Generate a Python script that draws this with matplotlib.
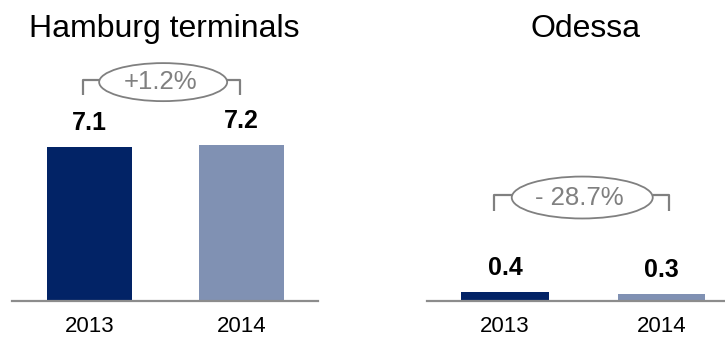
import matplotlib.pyplot as plt
from matplotlib.patches import Ellipse

plt.rcParams['font.family'] = ['Liberation Sans', 'DejaVu Sans']

years = ['2013', '2014']
hamburg = [7.1, 7.2]
odessa = [0.4, 0.3]
hamburg_change = '+1.2%'
odessa_change = '- 28.7%'

dark = '#022366'
light = '#8091B3'
grey = '#808080'
y_top = 13.92

fig = plt.figure(figsize=(7.25, 3.38), dpi=100)
ax1 = fig.add_axes([0.0166, 0.11, 0.4221, 0.89])
ax2 = fig.add_axes([0.589, 0.11, 0.42, 0.89])


def panel(ax, values, xlim):
    x = range(len(values))
    ax.bar(x, values, width=0.56, color=[dark, light])
    for xi, v in zip(x, values):
        ax.annotate(f'{v:.1f}', (xi, v), xytext=(0, 12.2), textcoords='offset points',
                    ha='center', va='baseline', fontsize=18, fontweight='bold')
    ax.set_xlim(*xlim)
    ax.set_ylim(0, y_top)
    ax.set_xticks(list(x), years)
    ax.tick_params(axis='x', length=0, pad=11, labelsize=16)
    ax.set_yticks([])
    for s in ['top', 'left', 'right']:
        ax.spines[s].set_visible(False)
    ax.spines['bottom'].set_color('#8C8C8C')
    ax.spines['bottom'].set_linewidth(1.6)


def change_bubble(ax, text, left, right, y, drop, cx, w, h):
    # bracket arms plus the ellipse holding the percentage
    kw = dict(color=grey, lw=1.6, solid_capstyle='butt')
    ax.plot([left, left, cx - w / 2], [y - drop, y, y], **kw)
    ax.plot([cx + w / 2, right, right], [y, y, y - drop], **kw)
    ax.add_patch(Ellipse((cx, y - 0.1), w, h, fill=False, ec=grey, lw=1.3))
    ax.text(cx - 0.02, y - 0.1, text, ha='center', va='center', fontsize=18.5, color=grey)


panel(ax1, hamburg, (-0.51, 1.503))
panel(ax2, odessa, (-0.5, 1.448))

change_bubble(ax1, hamburg_change, -0.043, 0.99, 10.22, 0.7, 0.484, 0.842, 1.76)
change_bubble(ax2, odessa_change, -0.069, 1.049, 4.88, 0.74, 0.493, 0.902, 1.94)

fig.text(164 / 725, 1 - 37 / 338, 'Hamburg terminals', ha='center', va='baseline', fontsize=23)
fig.text(585 / 725, 1 - 37 / 338, 'Odessa', ha='center', va='baseline', fontsize=23)

fig.savefig('out.png', dpi=100)
